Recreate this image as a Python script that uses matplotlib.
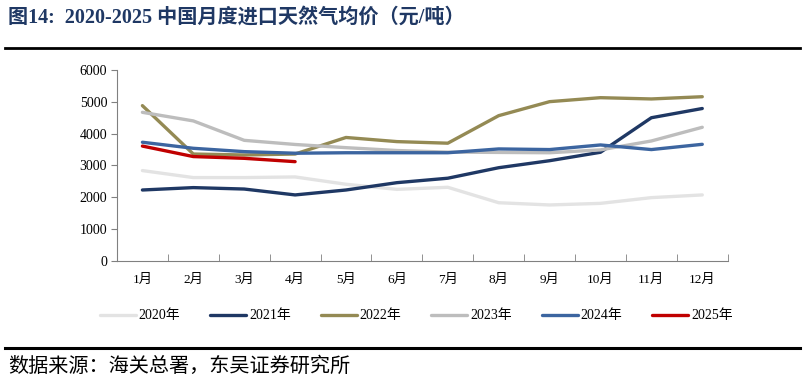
import matplotlib.pyplot as plt
from matplotlib.lines import Line2D

plt.rcParams['font.family'] = ['Liberation Serif', 'Noto Sans CJK SC']

months = ['1月', '2月', '3月', '4月', '5月', '6月', '7月', '8月', '9月', '10月', '11月', '12月']

y2020 = [2840, 2620, 2620, 2640, 2410, 2250, 2315, 1830, 1760, 1810, 1990, 2075]
y2021 = [2230, 2305, 2260, 2075, 2230, 2460, 2600, 2930, 3150, 3415, 4500, 4790]
y2022 = [4880, 3360, 3330, 3360, 3880, 3750, 3700, 4565, 5005, 5130, 5090, 5160]
y2023 = [4670, 4400, 3790, 3660, 3560, 3470, 3420, 3410, 3400, 3490, 3770, 4200]
y2024 = [3730, 3540, 3435, 3385, 3400, 3400, 3400, 3520, 3500, 3645, 3500, 3665]
y2025 = [3610, 3280, 3225, 3120]

series = [
    ('2020年', y2020, '#E3E3E3'),
    ('2021年', y2021, '#1F3864'),
    ('2022年', y2022, '#948A54'),
    ('2023年', y2023, '#BDBDBD'),
    ('2024年', y2024, '#3C65A0'),
    ('2025年', y2025, '#C00000'),
]

fig = plt.figure(figsize=(8.05, 3.82), dpi=100)
ax = fig.add_axes([0.1453, 0.3168, 0.7587, 0.5])

# draw each year
for name, vals, col in series:
    xs = list(range(1, len(vals) + 1))
    ax.plot(xs, vals, color=col, lw=2.4, label=name, solid_capstyle='round')

ax.set_xlim(0.5, 12.5)
ax.set_ylim(0, 6000)
ax.set_yticks(range(0, 6001, 1000))
ax.set_xticks(range(1, 13))
ax.set_xticklabels(months)
ax.set_xticks([i + 0.5 for i in range(0, 13)], minor=True)
ax.tick_params(axis='x', which='major', length=0, pad=9, labelsize=9.5)
ax.tick_params(axis='x', which='minor', direction='in', length=5, color='#808080')
ax.tick_params(axis='y', direction='out', length=4, color='#808080', labelsize=10, pad=3)

for side in ['top', 'right']:
    ax.spines[side].set_visible(False)
for side in ['left', 'bottom']:
    ax.spines[side].set_color('#808080')
    ax.spines[side].set_linewidth(0.8)

fig.legend(loc='center', bbox_to_anchor=(0.517, 0.173), ncol=6, frameon=False,
           fontsize=10, handlelength=2.6, handletextpad=0.2, columnspacing=2.15)

# title, rules and source
fig.text(0.01, 0.955, '图14:  2020-2025 中国月度进口天然气均价（元/吨）',
         fontsize=14.5, fontweight='bold', color='#1F3864', va='center',
         family=['Liberation Serif', 'Noto Sans CJK SC'])
fig.add_artist(Line2D([0.006, 0.994], [0.874, 0.874], color='black', lw=2))
fig.add_artist(Line2D([0.006, 0.994], [0.088, 0.088], color='black', lw=2.2))
fig.text(0.01, 0.042, '数据来源：海关总署，东吴证券研究所', fontsize=14.5, va='center',
         family=['Noto Sans CJK SC', 'DejaVu Sans'])

fig.savefig('out.png', dpi=100)
